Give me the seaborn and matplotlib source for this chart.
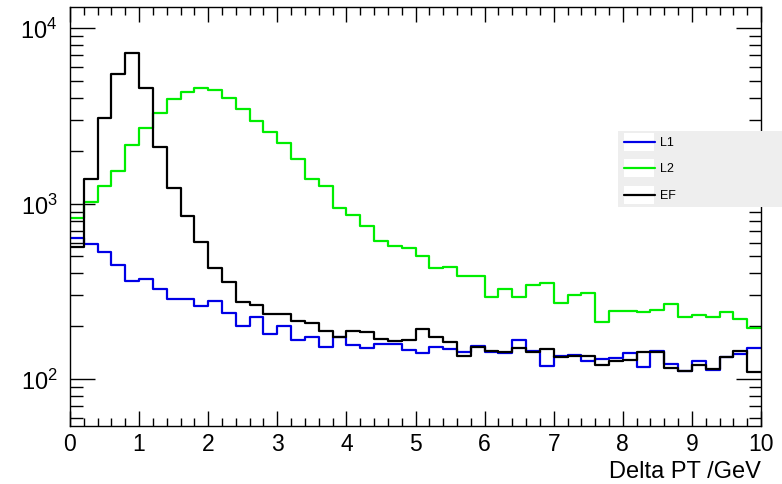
import numpy as np
import pandas as pd
import seaborn as sns
import matplotlib
matplotlib.use("Agg")
import matplotlib.pyplot as plt
from matplotlib.patches import Rectangle
from matplotlib.lines import Line2D
from matplotlib.ticker import LogLocator, MultipleLocator, NullFormatter

# ---- data (bin contents, 50 bins of width 0.2 GeV from 0 to 10) ----
bin_edges = [round(0.2 * i, 1) for i in range(51)]
l1_counts = [636, 589, 532, 449, 364, 374, 326, 286, 286, 260,
             277, 237, 201, 227, 181, 201, 167, 173, 152, 173,
             157, 150, 158, 158, 147, 141, 153, 148, 142, 155,
             143, 141, 167, 144, 118, 136, 138, 127, 130, 131,
             141, 117, 144, 122, 111, 126, 113, 133, 139, 150]
l2_counts = [830, 1026, 1268, 1532, 2172, 2690, 3290, 3960, 4324, 4575,
             4455, 4013, 3467, 2970, 2575, 2210, 1797, 1384, 1257, 945,
             862, 750, 615, 572, 562, 501, 432, 437, 385, 385,
             292, 326, 295, 344, 351, 272, 301, 310, 212, 245,
             245, 241, 248, 269, 227, 232, 225, 240, 220, 195]
ef_counts = [566, 1384, 3083, 5470, 7210, 4550, 2100, 1225, 855, 607,
             428, 359, 276, 264, 235, 235, 213, 209, 187, 173,
             189, 186, 169, 165, 167, 193, 173, 162, 135, 153,
             144, 142, 150, 143, 148, 134, 136, 136, 121, 126,
             129, 142, 142, 116, 111, 121, 114, 133, 145, 110]
series_names = ["L1", "L2", "EF"]
series_colors = ["#0000e6", "#00ee00", "#000000"]
x_label = "Delta PT /GeV"

centers = [(bin_edges[i] + bin_edges[i + 1]) / 2 for i in range(len(bin_edges) - 1)]
frames = []
for name, counts in zip(series_names, [l1_counts, l2_counts, ef_counts]):
    frames.append(pd.DataFrame({"x": centers, "w": counts, "series": name}))
df = pd.concat(frames, ignore_index=True)

sns.set_theme(style="ticks")
plt.rcParams["font.family"] = ["Liberation Sans", "DejaVu Sans"]
plt.rcParams["mathtext.default"] = "regular"
plt.rcParams["text.color"] = "black"
plt.rcParams["axes.labelcolor"] = "black"
plt.rcParams["xtick.labelcolor"] = "black"
plt.rcParams["ytick.labelcolor"] = "black"

W, H = 782, 485
fig = plt.figure(figsize=(W / 100, H / 100), dpi=100)
ax = fig.add_axes([70 / W, (H - 427) / H, (761 - 70) / W, (427 - 8) / H])

for name, color in zip(series_names, series_colors):
    sub = df[df["series"] == name]
    sns.histplot(data=sub, x="x", weights="w", bins=bin_edges, element="step",
                 fill=False, color=color, linewidth=1.6, ax=ax)

ax.set_yscale("log")
ax.set_xlim(0, 10)
ax.set_ylim(54, 13200)
ax.set_ylabel("")
ax.set_xlabel(x_label, loc="right", fontsize=17, labelpad=4, color="black")

ax.xaxis.set_major_locator(MultipleLocator(1))
ax.xaxis.set_minor_locator(MultipleLocator(0.2))
ax.yaxis.set_major_locator(LogLocator(base=10, numticks=10))
ax.yaxis.set_minor_locator(LogLocator(base=10, subs=np.arange(2, 10), numticks=20))
ax.yaxis.set_minor_formatter(NullFormatter())

ax.tick_params(axis="both", which="both", direction="in", top=True, right=True,
               color="black", width=1.0, labelcolor="black")
ax.tick_params(axis="x", which="major", length=11, labelsize=16.5, pad=4)
ax.tick_params(axis="x", which="minor", length=5.5)
ax.tick_params(axis="y", which="major", length=18, labelsize=17, pad=9)
ax.tick_params(axis="y", which="minor", length=9)
for sp in ax.spines.values():
    sp.set_visible(True)
    sp.set_color("black")
    sp.set_linewidth(1.0)
ax.grid(False)

# ---- legend box (ROOT style) ----
def fx(px):
    return px / W

def fy(py):
    return (H - py) / H

box = Rectangle((fx(618), fy(208)), fx(782) - fx(618), fy(132) - fy(208),
                transform=fig.transFigure, facecolor="#eeeeee", edgecolor="none",
                zorder=10)
fig.add_artist(box)
rows = [143, 169, 196]
for name, color, yy in zip(series_names, series_colors, rows):
    fig.add_artist(Rectangle((fx(624), fy(yy + 9)), fx(654) - fx(624), fy(yy - 9) - fy(yy + 9),
                             transform=fig.transFigure, facecolor="white",
                             edgecolor="none", zorder=11))
    fig.add_artist(Line2D([fx(624), fx(655)], [fy(yy), fy(yy)], transform=fig.transFigure,
                          color=color, linewidth=1.6, zorder=12))
    fig.text(fx(660), fy(yy), name, fontsize=9, va="center", ha="left", zorder=12,
             color="black")

fig.savefig("out.png", dpi=100)
